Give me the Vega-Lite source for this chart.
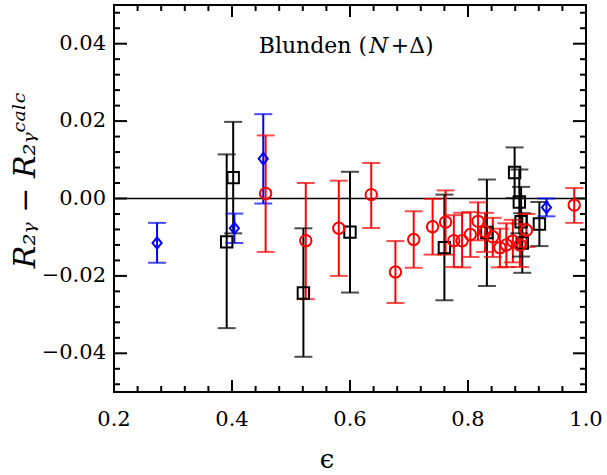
{
  "$schema": "https://vega.github.io/schema/vega-lite/v6.json",
  "width": 472,
  "height": 387,
  "autosize": {"type": "none"},
  "padding": {"left": 114, "top": 5, "right": 21, "bottom": 83},
  "background": "white",
  "config": {
    "view": {"stroke": "black", "strokeWidth": 2},
    "font": "DejaVu Serif"
  },
  "datasets": {
    "pts": [
      {"set": "black", "eps": 0.391, "d": -0.0112, "lo": -0.0335, "hi": 0.0114},
      {"set": "black", "eps": 0.402, "d": 0.0054, "lo": -0.0090, "hi": 0.0198},
      {"set": "black", "eps": 0.521, "d": -0.0244, "lo": -0.0409, "hi": -0.0077},
      {"set": "black", "eps": 0.600, "d": -0.0087, "lo": -0.0243, "hi": 0.0069},
      {"set": "black", "eps": 0.760, "d": -0.0127, "lo": -0.0263, "hi": 0.0010},
      {"set": "black", "eps": 0.832, "d": -0.0088, "lo": -0.0226, "hi": 0.0049},
      {"set": "black", "eps": 0.879, "d": 0.0067, "lo": 0.0001, "hi": 0.0132},
      {"set": "black", "eps": 0.887, "d": -0.0009, "lo": -0.0090, "hi": 0.0075},
      {"set": "black", "eps": 0.890, "d": -0.0060, "lo": -0.0150, "hi": 0.0030},
      {"set": "black", "eps": 0.892, "d": -0.0115, "lo": -0.0192, "hi": -0.0038},
      {"set": "black", "eps": 0.921, "d": -0.0066, "lo": -0.0123, "hi": -0.0009},
      {"set": "red", "eps": 0.457, "d": 0.0013, "lo": -0.0138, "hi": 0.0163},
      {"set": "red", "eps": 0.525, "d": -0.0109, "lo": -0.0260, "hi": 0.0040},
      {"set": "red", "eps": 0.581, "d": -0.0077, "lo": -0.0200, "hi": 0.0046},
      {"set": "red", "eps": 0.636, "d": 0.0010, "lo": -0.0076, "hi": 0.0092},
      {"set": "red", "eps": 0.677, "d": -0.0190, "lo": -0.0270, "hi": -0.0110},
      {"set": "red", "eps": 0.708, "d": -0.0106, "lo": -0.0179, "hi": -0.0033},
      {"set": "red", "eps": 0.740, "d": -0.0073, "lo": -0.0145, "hi": -0.0001},
      {"set": "red", "eps": 0.762, "d": -0.0061, "lo": -0.0145, "hi": 0.0021},
      {"set": "red", "eps": 0.776, "d": -0.0109, "lo": -0.0177, "hi": -0.0043},
      {"set": "red", "eps": 0.790, "d": -0.0109, "lo": -0.0178, "hi": -0.0037},
      {"set": "red", "eps": 0.804, "d": -0.0093, "lo": -0.0151, "hi": -0.0035},
      {"set": "red", "eps": 0.817, "d": -0.0059, "lo": -0.0108, "hi": -0.0010},
      {"set": "red", "eps": 0.829, "d": -0.0086, "lo": -0.0138, "hi": -0.0037},
      {"set": "red", "eps": 0.842, "d": -0.0099, "lo": -0.0151, "hi": -0.0050},
      {"set": "red", "eps": 0.854, "d": -0.0127, "lo": -0.0178, "hi": -0.0078},
      {"set": "red", "eps": 0.865, "d": -0.0120, "lo": -0.0177, "hi": -0.0064},
      {"set": "red", "eps": 0.876, "d": -0.0110, "lo": -0.0165, "hi": -0.0055},
      {"set": "red", "eps": 0.888, "d": -0.0120, "lo": -0.0177, "hi": -0.0065},
      {"set": "red", "eps": 0.899, "d": -0.0082, "lo": -0.0125, "hi": -0.0040},
      {"set": "red", "eps": 0.980, "d": -0.0017, "lo": -0.0063, "hi": 0.0027},
      {"set": "blue", "eps": 0.273, "d": -0.0115, "lo": -0.0166, "hi": -0.0063},
      {"set": "blue", "eps": 0.404, "d": -0.0077, "lo": -0.0115, "hi": -0.0039},
      {"set": "blue", "eps": 0.453, "d": 0.0103, "lo": -0.0013, "hi": 0.0218},
      {"set": "blue", "eps": 0.933, "d": -0.0023, "lo": -0.0046, "hi": 0.0000}
    ],
    "xlab": [{"v": 0.2}, {"v": 0.4}, {"v": 0.6}, {"v": 0.8}, {"v": 1.0}],
    "xmaj": [{"v": 0.4}, {"v": 0.6}, {"v": 0.8}],
    "xmin": [{"v": 0.24}, {"v": 0.28}, {"v": 0.32}, {"v": 0.36}, {"v": 0.44}, {"v": 0.48}, {"v": 0.52}, {"v": 0.56}, {"v": 0.64}, {"v": 0.68}, {"v": 0.72}, {"v": 0.76}, {"v": 0.84}, {"v": 0.88}, {"v": 0.92}, {"v": 0.96}],
    "ymaj": [{"v": -0.04}, {"v": -0.02}, {"v": 0}, {"v": 0.02}, {"v": 0.04}],
    "ymin": [{"v": -0.048}, {"v": -0.044}, {"v": -0.036}, {"v": -0.032}, {"v": -0.028}, {"v": -0.024}, {"v": -0.016}, {"v": -0.012}, {"v": -0.008}, {"v": -0.004}, {"v": 0.004}, {"v": 0.008}, {"v": 0.012}, {"v": 0.016}, {"v": 0.024}, {"v": 0.028}, {"v": 0.032}, {"v": 0.036}, {"v": 0.044}, {"v": 0.048}],
    "one": [{"k": 1}]
  },
  "data": {"name": "pts"},
  "layer": [
    {
      "data": {"name": "xmaj"},
      "mark": {"type": "rule", "strokeWidth": 2, "color": "black"},
      "encoding": {
        "x": {"field": "v", "type": "quantitative", "scale": {"domain": [0.2, 1.0], "nice": false, "zero": false}, "axis": null},
        "y": {"datum": -0.05, "type": "quantitative", "scale": {"domain": [-0.05, 0.05], "nice": false, "zero": false}, "axis": null},
        "y2": {"datum": -0.0469}
      }
    },
    {
      "data": {"name": "xmaj"},
      "mark": {"type": "rule", "strokeWidth": 2, "color": "black"},
      "encoding": {
        "x": {"field": "v", "type": "quantitative", "scale": {"domain": [0.2, 1.0], "nice": false, "zero": false}, "axis": null},
        "y": {"datum": 0.05, "type": "quantitative", "scale": {"domain": [-0.05, 0.05], "nice": false, "zero": false}, "axis": null},
        "y2": {"datum": 0.0469}
      }
    },
    {
      "data": {"name": "xmin"},
      "mark": {"type": "rule", "strokeWidth": 2, "color": "black"},
      "encoding": {
        "x": {"field": "v", "type": "quantitative", "scale": {"domain": [0.2, 1.0], "nice": false, "zero": false}, "axis": null},
        "y": {"datum": -0.05, "type": "quantitative", "scale": {"domain": [-0.05, 0.05], "nice": false, "zero": false}, "axis": null},
        "y2": {"datum": -0.04845}
      }
    },
    {
      "data": {"name": "xmin"},
      "mark": {"type": "rule", "strokeWidth": 2, "color": "black"},
      "encoding": {
        "x": {"field": "v", "type": "quantitative", "scale": {"domain": [0.2, 1.0], "nice": false, "zero": false}, "axis": null},
        "y": {"datum": 0.05, "type": "quantitative", "scale": {"domain": [-0.05, 0.05], "nice": false, "zero": false}, "axis": null},
        "y2": {"datum": 0.04845}
      }
    },
    {
      "data": {"name": "ymaj"},
      "mark": {"type": "rule", "strokeWidth": 2, "color": "black"},
      "encoding": {
        "x": {"datum": 0.2, "type": "quantitative", "scale": {"domain": [0.2, 1.0], "nice": false, "zero": false}, "axis": null},
        "x2": {"datum": 0.222},
        "y": {"field": "v", "type": "quantitative", "scale": {"domain": [-0.05, 0.05], "nice": false, "zero": false}, "axis": null}
      }
    },
    {
      "data": {"name": "ymaj"},
      "mark": {"type": "rule", "strokeWidth": 2, "color": "black"},
      "encoding": {
        "x": {"datum": 1.0, "type": "quantitative", "scale": {"domain": [0.2, 1.0], "nice": false, "zero": false}, "axis": null},
        "x2": {"datum": 0.978},
        "y": {"field": "v", "type": "quantitative", "scale": {"domain": [-0.05, 0.05], "nice": false, "zero": false}, "axis": null}
      }
    },
    {
      "data": {"name": "ymin"},
      "mark": {"type": "rule", "strokeWidth": 2, "color": "black"},
      "encoding": {
        "x": {"datum": 0.2, "type": "quantitative", "scale": {"domain": [0.2, 1.0], "nice": false, "zero": false}, "axis": null},
        "x2": {"datum": 0.2102},
        "y": {"field": "v", "type": "quantitative", "scale": {"domain": [-0.05, 0.05], "nice": false, "zero": false}, "axis": null}
      }
    },
    {
      "data": {"name": "ymin"},
      "mark": {"type": "rule", "strokeWidth": 2, "color": "black"},
      "encoding": {
        "x": {"datum": 1.0, "type": "quantitative", "scale": {"domain": [0.2, 1.0], "nice": false, "zero": false}, "axis": null},
        "x2": {"datum": 0.9898},
        "y": {"field": "v", "type": "quantitative", "scale": {"domain": [-0.05, 0.05], "nice": false, "zero": false}, "axis": null}
      }
    },
    {
      "data": {"name": "ymaj"},
      "mark": {"type": "text", "align": "right", "baseline": "middle", "dx": -8, "fontSize": 21, "font": "DejaVu Serif", "color": "black"},
      "encoding": {
        "x": {"datum": 0.2, "type": "quantitative", "scale": {"domain": [0.2, 1.0], "nice": false, "zero": false}, "axis": null},
        "y": {"field": "v", "type": "quantitative", "scale": {"domain": [-0.05, 0.05], "nice": false, "zero": false}, "axis": null},
        "text": {"field": "v", "type": "quantitative", "format": ".2f"}
      }
    },
    {
      "data": {"name": "xlab"},
      "mark": {"type": "text", "align": "center", "baseline": "top", "dy": 17, "fontSize": 21, "font": "DejaVu Serif", "color": "black"},
      "encoding": {
        "x": {"field": "v", "type": "quantitative", "scale": {"domain": [0.2, 1.0], "nice": false, "zero": false}, "axis": null},
        "y": {"datum": -0.05, "type": "quantitative", "scale": {"domain": [-0.05, 0.05], "nice": false, "zero": false}, "axis": null},
        "text": {"field": "v", "type": "quantitative", "format": ".1f"}
      }
    },
    {
      "data": {"name": "one"},
      "mark": {"type": "text", "text": "ϵ", "align": "center", "baseline": "alphabetic", "dy": 76, "fontSize": 26, "font": "DejaVu Serif", "color": "black"},
      "encoding": {
        "x": {"datum": 0.561, "type": "quantitative", "scale": {"domain": [0.2, 1.0], "nice": false, "zero": false}, "axis": null},
        "y": {"datum": -0.05, "type": "quantitative", "scale": {"domain": [-0.05, 0.05], "nice": false, "zero": false}, "axis": null}
      }
    },
    {
      "data": {"name": "one"},
      "mark": {"type": "text", "text": "R₂ᵧ − R₂ᵧᶜᵃˡᶜ", "align": "center", "baseline": "alphabetic", "angle": 270, "fontSize": 30, "fontStyle": "italic", "font": "DejaVu Serif", "color": "black"},
      "encoding": {
        "x": {"datum": 0.0661, "type": "quantitative", "scale": {"domain": [0.2, 1.0], "nice": false, "zero": false}, "axis": null},
        "y": {"datum": 0.0047, "type": "quantitative", "scale": {"domain": [-0.05, 0.05], "nice": false, "zero": false}, "axis": null}
      }
    },
    {
      "data": {"name": "one"},
      "mark": {"type": "rule", "color": "black", "strokeWidth": 1.5},
      "encoding": {
        "y": {"datum": 0, "type": "quantitative", "scale": {"domain": [-0.05, 0.05], "nice": false, "zero": false}, "axis": null}
      }
    },
    {
      "mark": {"type": "rule", "strokeWidth": 2},
      "encoding": {
        "x": {"field": "eps", "type": "quantitative", "scale": {"domain": [0.2, 1.0], "nice": false, "zero": false}, "axis": null},
        "y": {"field": "lo", "type": "quantitative", "scale": {"domain": [-0.05, 0.05], "nice": false, "zero": false}, "axis": null},
        "y2": {"field": "hi"},
        "color": {"field": "set", "type": "nominal", "scale": {"domain": ["black", "red", "blue"], "range": ["#000000", "#ff0000", "#0000ff"]}, "legend": null}
      }
    },
    {
      "mark": {"type": "tick", "orient": "horizontal", "size": 18, "thickness": 2},
      "encoding": {
        "x": {"field": "eps", "type": "quantitative", "scale": {"domain": [0.2, 1.0], "nice": false, "zero": false}, "axis": null},
        "y": {"field": "lo", "type": "quantitative", "scale": {"domain": [-0.05, 0.05], "nice": false, "zero": false}, "axis": null},
        "color": {"field": "set", "type": "nominal", "scale": {"domain": ["black", "red", "blue"], "range": ["#000000", "#ff0000", "#0000ff"]}, "legend": null}
      }
    },
    {
      "mark": {"type": "tick", "orient": "horizontal", "size": 18, "thickness": 2},
      "encoding": {
        "x": {"field": "eps", "type": "quantitative", "scale": {"domain": [0.2, 1.0], "nice": false, "zero": false}, "axis": null},
        "y": {"field": "hi", "type": "quantitative", "scale": {"domain": [-0.05, 0.05], "nice": false, "zero": false}, "axis": null},
        "color": {"field": "set", "type": "nominal", "scale": {"domain": ["black", "red", "blue"], "range": ["#000000", "#ff0000", "#0000ff"]}, "legend": null}
      }
    },
    {
      "mark": {"type": "point", "filled": false, "strokeWidth": 2, "size": 130, "opacity": 1},
      "encoding": {
        "x": {"field": "eps", "type": "quantitative", "scale": {"domain": [0.2, 1.0], "nice": false, "zero": false}, "axis": null},
        "y": {"field": "d", "type": "quantitative", "scale": {"domain": [-0.05, 0.05], "nice": false, "zero": false}, "axis": null},
        "color": {"field": "set", "type": "nominal", "scale": {"domain": ["black", "red", "blue"], "range": ["#000000", "#ff0000", "#0000ff"]}, "legend": null},
        "shape": {"field": "set", "type": "nominal", "scale": {"domain": ["black", "red", "blue"], "range": ["square", "circle", "M0,-1L0.8,0L0,1L-0.8,0Z"]}, "legend": null}
      }
    },
    {
      "data": {"name": "one"},
      "mark": {"type": "text", "text": "Blunden (", "align": "right", "baseline": "alphabetic", "fontSize": 22, "font": "DejaVu Serif", "color": "black"},
      "encoding": {
        "x": {"datum": 0.629, "type": "quantitative", "scale": {"domain": [0.2, 1.0], "nice": false, "zero": false}, "axis": null},
        "y": {"datum": 0.0376, "type": "quantitative", "scale": {"domain": [-0.05, 0.05], "nice": false, "zero": false}, "axis": null}
      }
    },
    {
      "data": {"name": "one"},
      "mark": {"type": "text", "text": "N", "align": "left", "baseline": "alphabetic", "fontSize": 22, "fontStyle": "italic", "font": "DejaVu Serif", "color": "black"},
      "encoding": {
        "x": {"datum": 0.632, "type": "quantitative", "scale": {"domain": [0.2, 1.0], "nice": false, "zero": false}, "axis": null},
        "y": {"datum": 0.0376, "type": "quantitative", "scale": {"domain": [-0.05, 0.05], "nice": false, "zero": false}, "axis": null}
      }
    },
    {
      "data": {"name": "one"},
      "mark": {"type": "text", "text": "+Δ)", "align": "left", "baseline": "alphabetic", "fontSize": 22, "font": "DejaVu Serif", "color": "black"},
      "encoding": {
        "x": {"datum": 0.669, "type": "quantitative", "scale": {"domain": [0.2, 1.0], "nice": false, "zero": false}, "axis": null},
        "y": {"datum": 0.0376, "type": "quantitative", "scale": {"domain": [-0.05, 0.05], "nice": false, "zero": false}, "axis": null}
      }
    }
  ]
}
